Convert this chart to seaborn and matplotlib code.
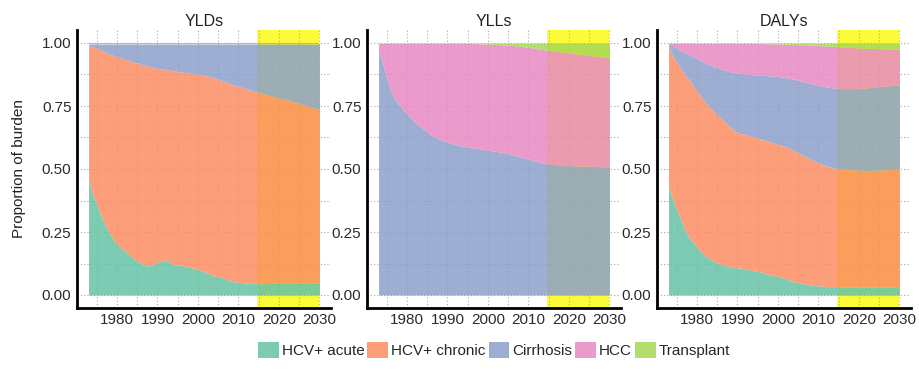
import numpy as np
import pandas as pd
import matplotlib
matplotlib.use("Agg")
import matplotlib.pyplot as plt
from matplotlib.patches import Patch
import seaborn as sns

# ---------------- data ----------------
years = [1973, 1974, 1975, 1976, 1977, 1978, 1980, 1982, 1984, 1986, 1988,
         1990, 1992, 1994, 1996, 1998, 2000, 2002, 2004, 2006, 2008, 2010,
         2012, 2014, 2016, 2018, 2020, 2022, 2024, 2026, 2028, 2030]

categories = ["HCV+ acute", "HCV+ chronic", "Cirrhosis", "HCC", "Transplant"]
panels = ["YLDs", "YLLs", "DALYs"]

# YLDs
yld_acute = [0.46, 0.40, 0.36, 0.32, 0.28, 0.25, 0.20, 0.175, 0.145, 0.125, 0.115,
             0.13, 0.14, 0.12, 0.118, 0.11, 0.102, 0.09, 0.075, 0.07, 0.055, 0.05,
             0.048, 0.045, 0.045, 0.046, 0.046, 0.046, 0.046, 0.046, 0.046, 0.046]
yld_chronic = [0.53, 0.585, 0.62, 0.652, 0.685, 0.708, 0.745, 0.76, 0.78, 0.79, 0.792,
               0.77, 0.755, 0.77, 0.767, 0.77, 0.773, 0.78, 0.787, 0.78, 0.783, 0.778,
               0.77, 0.763, 0.755, 0.744, 0.736, 0.729, 0.719, 0.709, 0.699, 0.689]
yld_cirrhosis = [0.006, 0.011, 0.016, 0.024, 0.031, 0.038, 0.051, 0.061, 0.071, 0.081, 0.089,
                 0.096, 0.101, 0.106, 0.111, 0.116, 0.121, 0.126, 0.134, 0.146, 0.158, 0.168,
                 0.178, 0.188, 0.196, 0.206, 0.214, 0.221, 0.231, 0.241, 0.251, 0.261]
yld_hcc = [0.003] * 32
yld_transplant = [0.001] * 32

# YLLs
yll_acute = [0.0] * 32
yll_chronic = [0.0] * 32
yll_cirrhosis = [0.97, 0.92, 0.86, 0.81, 0.78, 0.755, 0.72, 0.685, 0.66, 0.635, 0.618,
                 0.607, 0.597, 0.59, 0.585, 0.58, 0.575, 0.57, 0.565, 0.557, 0.548, 0.54,
                 0.53, 0.522, 0.518, 0.516, 0.514, 0.512, 0.511, 0.51, 0.509, 0.508]
yll_hcc = [0.029, 0.079, 0.139, 0.189, 0.219, 0.244, 0.279, 0.314, 0.339, 0.364, 0.381,
           0.392, 0.402, 0.409, 0.413, 0.417, 0.421, 0.424, 0.427, 0.433, 0.439, 0.443,
           0.448, 0.451, 0.451, 0.449, 0.447, 0.445, 0.442, 0.439, 0.436, 0.432]
yll_transplant = [0.001, 0.001, 0.001, 0.001, 0.001, 0.001, 0.001, 0.001, 0.001, 0.001, 0.001,
                  0.001, 0.001, 0.001, 0.002, 0.003, 0.004, 0.006, 0.008, 0.01, 0.013, 0.017,
                  0.022, 0.027, 0.031, 0.035, 0.039, 0.043, 0.047, 0.051, 0.055, 0.06]

# DALYs
daly_acute = [0.44, 0.38, 0.34, 0.30, 0.26, 0.23, 0.19, 0.155, 0.135, 0.122, 0.113,
              0.108, 0.104, 0.097, 0.09, 0.08, 0.074, 0.064, 0.053, 0.046, 0.04, 0.036,
              0.034, 0.033, 0.032, 0.032, 0.032, 0.032, 0.032, 0.032, 0.032, 0.032]
daly_chronic = [0.55, 0.57, 0.585, 0.60, 0.615, 0.625, 0.62, 0.61, 0.595, 0.578, 0.557,
                0.535, 0.533, 0.531, 0.528, 0.528, 0.524, 0.524, 0.519, 0.51, 0.50, 0.489,
                0.478, 0.47, 0.468, 0.465, 0.463, 0.462, 0.463, 0.464, 0.466, 0.468]
daly_cirrhosis = [0.005, 0.04, 0.055, 0.07, 0.087, 0.10, 0.128, 0.157, 0.178, 0.197, 0.217,
                  0.237, 0.24, 0.246, 0.254, 0.262, 0.269, 0.274, 0.284, 0.292, 0.30, 0.308,
                  0.314, 0.318, 0.319, 0.322, 0.325, 0.328, 0.33, 0.332, 0.333, 0.334]
daly_hcc = [0.004, 0.009, 0.019, 0.029, 0.037, 0.044, 0.061, 0.077, 0.091, 0.102, 0.112,
            0.119, 0.122, 0.125, 0.126, 0.127, 0.129, 0.133, 0.138, 0.145, 0.152, 0.157,
            0.162, 0.165, 0.165, 0.163, 0.16, 0.157, 0.153, 0.149, 0.145, 0.141]
daly_transplant = [0.001, 0.001, 0.001, 0.001, 0.001, 0.001, 0.001, 0.001, 0.001, 0.001, 0.001,
                   0.001, 0.001, 0.001, 0.002, 0.003, 0.004, 0.005, 0.006, 0.007, 0.008, 0.01,
                   0.012, 0.014, 0.016, 0.018, 0.02, 0.021, 0.022, 0.023, 0.024, 0.025]

projection_start = 2014.5
projection_end = 2030
x_ticks = [1980, 1990, 2000, 2010, 2020, 2030]
y_ticks = [0.0, 0.25, 0.5, 0.75, 1.0]
y_tick_labels = ["0.00", "0.25", "0.50", "0.75", "1.00"]

panel_data = {
    "YLDs": [yld_acute, yld_chronic, yld_cirrhosis, yld_hcc, yld_transplant],
    "YLLs": [yll_acute, yll_chronic, yll_cirrhosis, yll_hcc, yll_transplant],
    "DALYs": [daly_acute, daly_chronic, daly_cirrhosis, daly_hcc, daly_transplant],
}

# ---------------- style ----------------
sns.set_theme(style="white")
plt.rcParams['font.family'] = ['Liberation Sans', 'DejaVu Sans']
palette = sns.color_palette("Set2", 5)

W, H = 919, 370
fig = plt.figure(figsize=(W / 100, H / 100), dpi=100)

lefts_px = [77, 367, 657]
ax_w_px = 254
ax_top_px, ax_bot_px = 30.4, 307.6

for i, name in enumerate(panels):
    ax = fig.add_axes([lefts_px[i] / W, 1 - ax_bot_px / H, ax_w_px / W,
                       (ax_bot_px - ax_top_px) / H])
    ax.set_facecolor("white")
    ax.axvspan(projection_start, projection_end, color="#fbfb3a", lw=0, zorder=0.5)
    for gx in range(1975, 2031, 5):
        ax.axvline(gx, ls=(0, (1, 2)), color="#a8a8a8", lw=0.8, zorder=1)
    for gy in np.arange(0, 1.001, 0.125):
        ax.axhline(gy, ls=(0, (1, 2)), color="#a8a8a8", lw=0.8, zorder=1)
    ax.stackplot(years, *panel_data[name], colors=palette, alpha=0.85,
                 lw=0, zorder=2)
    ax.set_xlim(1970.15, 2032.85)
    ax.set_ylim(-0.05, 1.05)
    ax.set_xticks(x_ticks)
    ax.set_yticks(y_ticks)
    ax.set_yticklabels(y_tick_labels)
    ax.tick_params(axis="both", length=0, pad=4, labelsize=11, colors="#2b2b2b")
    ax.grid(False)
    for s in ["top", "right"]:
        ax.spines[s].set_visible(False)
    for s in ["left", "bottom"]:
        ax.spines[s].set_visible(True)
        ax.spines[s].set_color("black")
        ax.spines[s].set_linewidth(2)
        ax.spines[s].set_zorder(5)
    ax.set_title(name, fontsize=11.5, color="#222222", pad=3)

fig.text(19 / W, 1 - 169 / H, "Proportion of burden", rotation=90,
         ha="center", va="center", fontsize=11, color="#222222")

handles = [Patch(facecolor=c, edgecolor="none", alpha=0.85) for c in palette]
fig.legend(handles, categories, loc="center", bbox_to_anchor=(494 / W, 1 - 350 / H),
           ncol=5, frameon=False, fontsize=11, handlelength=1.35, handleheight=1.2,
           handletextpad=0.2, columnspacing=0.2, borderaxespad=0, borderpad=0)

fig.savefig("out.png", dpi=100)
